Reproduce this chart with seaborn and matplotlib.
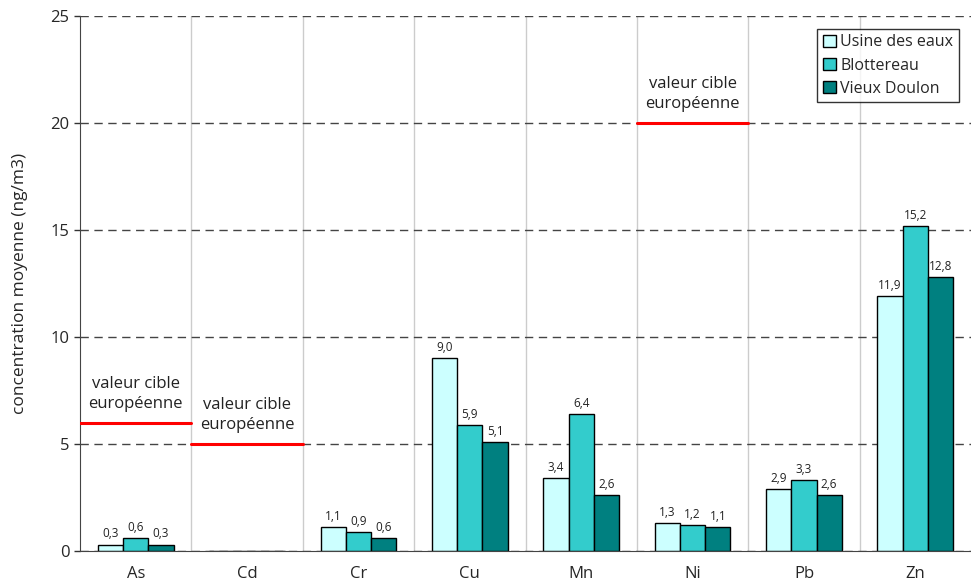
import pandas as pd
import matplotlib.pyplot as plt
import seaborn as sns

# data
metals = ["As", "Cd", "Cr", "Cu", "Mn", "Ni", "Pb", "Zn"]
sites = ["Usine des eaux", "Blottereau", "Vieux Doulon"]
usine = [0.3, 0.02, 1.1, 9.0, 3.4, 1.3, 2.9, 11.9]
blottereau = [0.6, 0.02, 0.9, 5.9, 6.4, 1.2, 3.3, 15.2]
doulon = [0.3, 0.02, 0.6, 5.1, 2.6, 1.1, 2.6, 12.8]
colors = ["#CCFFFF", "#33CCCC", "#008080"]

# European target values (only some metals have one)
target_metals = ["As", "Cd", "Ni"]
target_values = [6, 5, 20]

rows = []
for site, vals in zip(sites, [usine, blottereau, doulon]):
    for m, v in zip(metals, vals):
        rows.append({"metal": m, "site": site, "value": v})
df = pd.DataFrame(rows)

sns.set_style("white")
plt.rcParams['font.family'] = ['Open Sans', 'DejaVu Sans']

fig = plt.figure(figsize=(9.71, 5.86), dpi=100)
ax = fig.add_axes([0.0824, 0.0597, 0.9176, 0.913])

sns.barplot(data=df, x="metal", y="value", hue="site", order=metals,
            hue_order=sites, palette=colors, saturation=1, edgecolor="black",
            linewidth=1.0, width=0.68, ax=ax, legend=True)

# value labels (comma decimals), none for Cd
for cont in ax.containers:
    labels = []
    for bar in cont:
        v = bar.get_height()
        labels.append("" if v < 0.1 else f"{v:.1f}".replace(".", ","))
    ax.bar_label(cont, labels=labels, padding=3, fontsize=8.5, color="#222222")

ax.set_xlim(-0.5, len(metals) - 0.5)
ax.set_ylim(0, 25)
ax.set_yticks([0, 5, 10, 15, 20, 25])
ax.yaxis.grid(True, linestyle=(0, (6, 4)), color="#444444", linewidth=1.0)
ax.set_axisbelow(True)

# category separators
for b in range(1, len(metals)):
    ax.axvline(b - 0.5, color="#cccccc", linewidth=1.0, zorder=0)
ax.set_xticks([i - 0.5 for i in range(len(metals) + 1)], minor=True)
ax.tick_params(axis="x", which="minor", length=6, width=1, color="#333333",
               direction="out")
ax.tick_params(axis="x", which="major", length=0, labelsize=12, pad=11)
ax.tick_params(axis="y", length=4, width=1, color="#333333", labelsize=12,
               left=True, direction="out")

# target value lines and their labels
for m, t in zip(target_metals, target_values):
    i = metals.index(m)
    ax.plot([i - 0.5, i + 0.5], [t, t], color="red", linewidth=2.2, zorder=5)
    ax.text(i, t + 0.5, "valeur cible\neuropéenne", ha="center", va="bottom",
            fontsize=12, linespacing=1.35, color="#222222")

for side in ["top", "right"]:
    ax.spines[side].set_visible(False)
ax.spines["left"].set_color("#444444")
ax.spines["bottom"].set_color("#444444")

ax.set_xlabel("")
ax.set_ylabel("concentration moyenne (ng/m3)", fontsize=12.5, labelpad=16)

leg = ax.legend(loc="upper right", bbox_to_anchor=(0.992, 0.985),
                frameon=True, fancybox=False, fontsize=11.5,
                handlelength=0.8, handleheight=0.8, handletextpad=0.3,
                labelspacing=0.45, borderpad=0.35, borderaxespad=0.3)
leg.get_frame().set_edgecolor("black")
leg.get_frame().set_linewidth(1.0)

plt.savefig("out.png", dpi=100)
